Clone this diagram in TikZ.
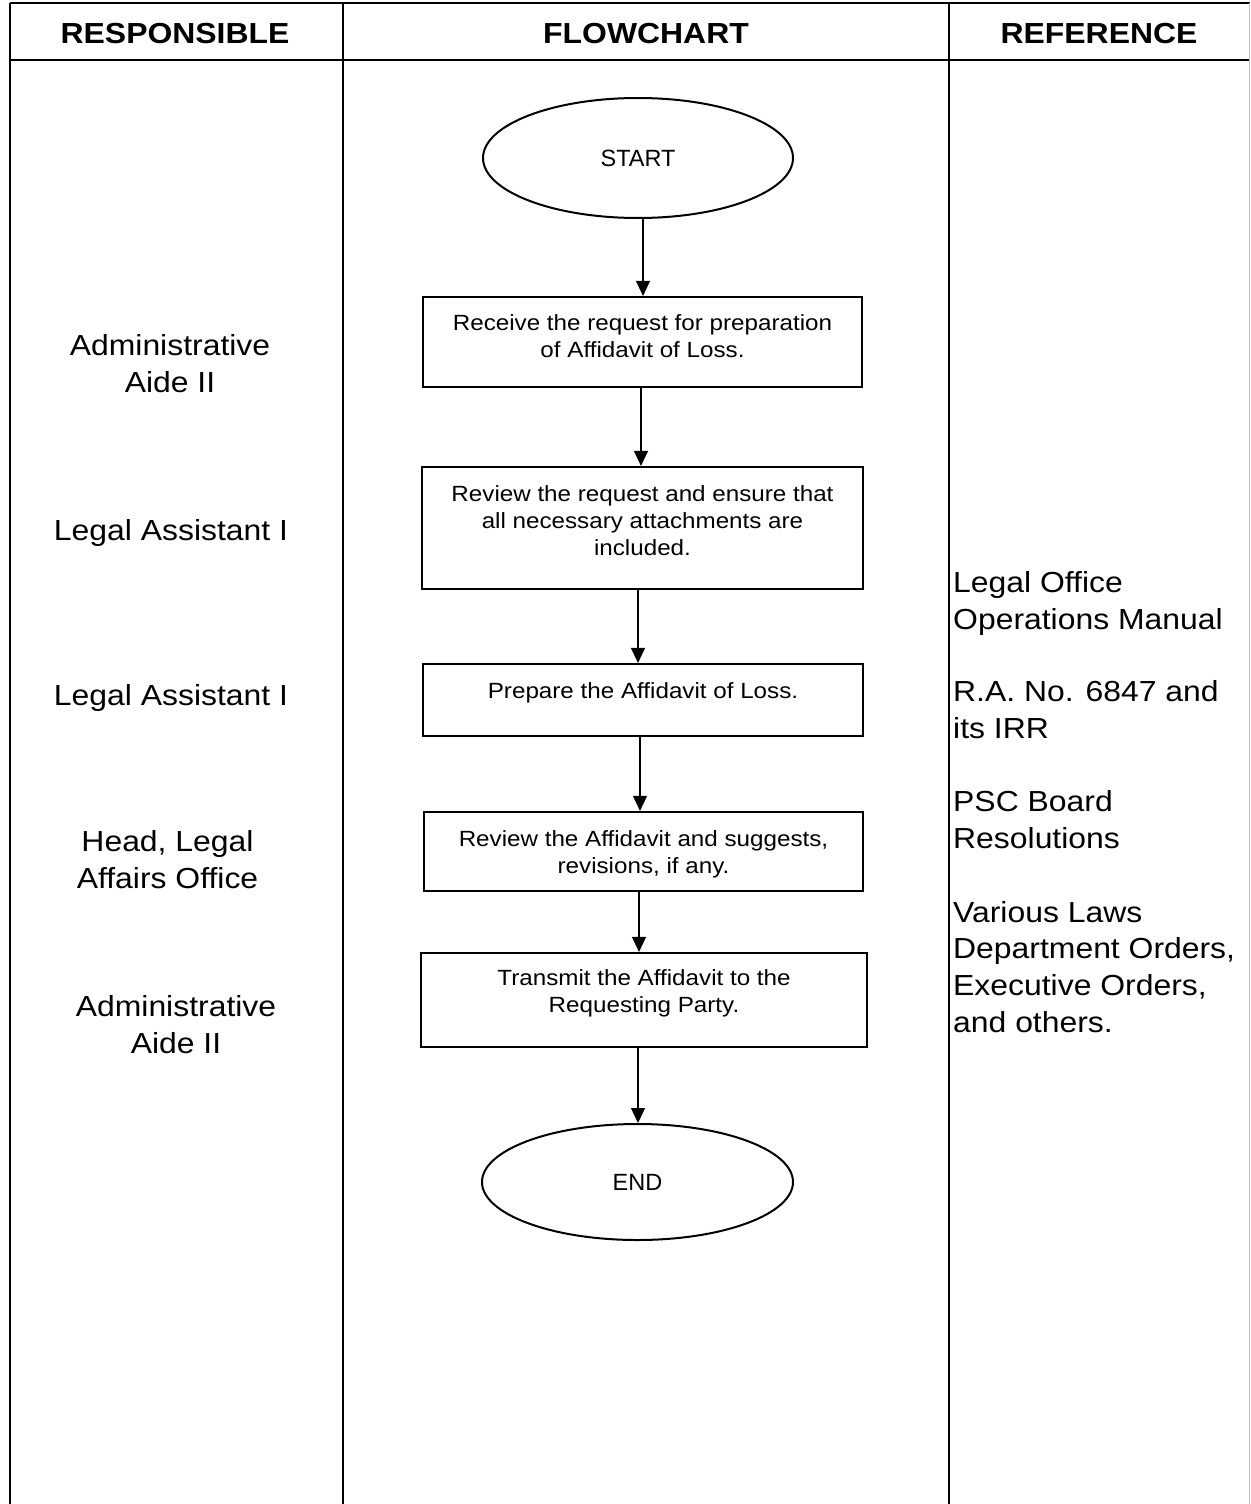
\documentclass[tikz,border=0pt]{standalone}
\usepackage{fontspec}
\setmainfont[FakeStretch=1.1]{Liberation Sans}
\newfontfamily\plainsans{Liberation Sans}
\usetikzlibrary{arrows.meta,shapes.geometric}
\begin{document}
\begin{tikzpicture}[x=1pt,y=-1pt,
  grid/.style={line width=2pt},
  hdr/.style={font=\bfseries\fontsize{29}{34}\selectfont, anchor=base, inner sep=0pt},
  role/.style={font=\fontsize{29}{37}\selectfont, align=center, anchor=base, inner sep=0pt},
  refs/.style={font=\fontsize{29}{36.6}\selectfont, align=left, anchor=base west, inner sep=0pt},
  term/.style={ellipse, draw, line width=2pt, inner sep=0pt, font=\plainsans\fontsize{23.5}{28}\selectfont},
  stepbox/.style={draw, line width=2.2pt, inner sep=0pt},
  boxtext/.style={font=\fontsize{22}{27}\selectfont, align=center, anchor=base, inner sep=0pt},
  arr/.style={line width=1.3pt, -{Triangle[length=15pt,width=14pt]}}]
\useasboundingbox (0,0) rectangle (1250,1504);

% table grid
\draw[grid] (10,3) -- (1250,3);
\draw[grid] (10,60.5) -- (1250,60.5);
\draw[grid] (10,3) -- (10,1504);
\draw[grid] (343,3) -- (343,1504);
\draw[grid] (949,3) -- (949,1504);
\draw[line width=1pt, black!25] (1249,3) -- (1249,1504);

% headers
\node[hdr] (h1) at (175,44) {RESPONSIBLE};
\node[hdr] (h2) at (646,44) {FLOWCHART};
\node[hdr] (h3) at (1099,44) {REFERENCE};

% responsible column (anchor = baseline of last line)
\node[role] (r1) at (170,392) {Administrative\\Aide II};
\node[role] (r2) at (171,540) {Legal Assistant I};
\node[role] (r3) at (171,705) {Legal Assistant I};
\node[role] (r4) at (167.5,888) {Head, Legal\\Affairs Office};
\node[role] (r5) at (176,1053) {Administrative\\Aide II};

% reference column
\node[refs] (f1) at (953,629) {Legal Office\\Operations Manual};
\node[refs] (f2) at (953,738) {R.A. No. 6847 and\\its IRR};
\node[refs] (f3) at (953,848) {PSC Board\\Resolutions};
\node[refs] (f4) at (953,1032) {Various Laws\\Department Orders,\\Executive Orders,\\and others.};

% flowchart
\node[term, minimum width=310pt, minimum height=120pt] (start) at (638,158) {START};
\node[stepbox, minimum width=439pt, minimum height=90pt] (b1) at (642.5,342) {};
\node[stepbox, minimum width=441pt, minimum height=122pt] (b2) at (642.5,528) {};
\node[stepbox, minimum width=440pt, minimum height=72pt] (b3) at (643,700) {};
\node[stepbox, minimum width=439pt, minimum height=79pt] (b4) at (643.5,851.5) {};
\node[stepbox, minimum width=446pt, minimum height=94pt] (b5) at (644,1000) {};
\node[term, minimum width=311pt, minimum height=116pt] (end) at (637.5,1182) {END};

\node[boxtext] (t1) at (642.5,357) {Receive the request for preparation\\of Affidavit of Loss.};
\node[boxtext] (t2) at (642.5,555) {Review the request and ensure that\\all necessary attachments are\\included.};
\node[boxtext] (t3) at (643,698) {Prepare the Affidavit of Loss.};
\node[boxtext] (t4) at (643.5,873) {Review the Affidavit and suggests,\\revisions, if any.};
\node[boxtext] (t5) at (644,1012) {Transmit the Affidavit to the\\Requesting Party.};

% connectors
\draw[arr] ([xshift=5pt]start.south) -- ([xshift=5pt]start.south |- b1.north);
\draw[arr] ([xshift=-1.5pt]b1.south) -- ([xshift=-1.5pt]b1.south |- b2.north);
\draw[arr] ([xshift=-4.5pt]b2.south) -- ([xshift=-4.5pt]b2.south |- b3.north);
\draw[arr] ([xshift=-3pt]b3.south) -- ([xshift=-3pt]b3.south |- b4.north);
\draw[arr] ([xshift=-4.5pt]b4.south) -- ([xshift=-4.5pt]b4.south |- b5.north);
\draw[arr] ([xshift=-6pt]b5.south) -- ([xshift=-6pt]b5.south |- end.north);
\end{tikzpicture}
\end{document}
